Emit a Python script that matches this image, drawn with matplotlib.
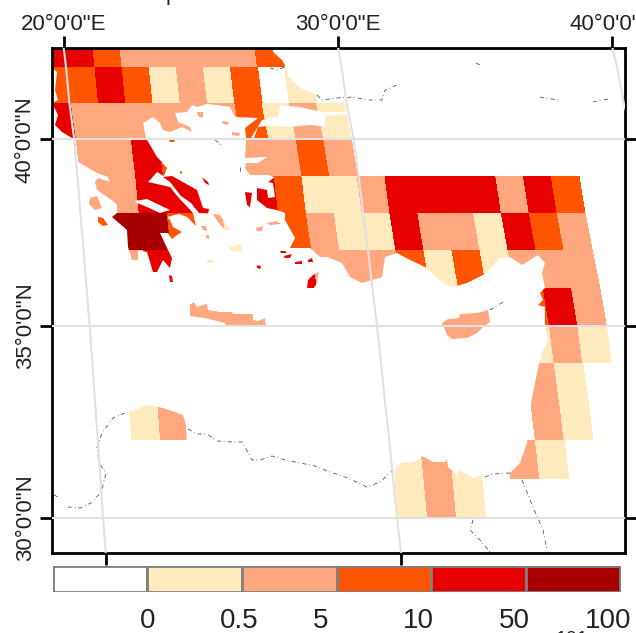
import numpy as np
import matplotlib
matplotlib.use('Agg')
import matplotlib.pyplot as plt
from matplotlib.collections import PolyCollection
from matplotlib.path import Path

plt.rcParams['font.family'] = ['Liberation Sans', 'DejaVu Sans']

# class colours and legend
classColors = ['#FFFFFF', '#FFEBBE', '#FFA77F', '#FF5500', '#E60000', '#A80000']
legendLabels = ['0', '0.5', '5', '10', '50', '100']
legendLabelPos = [1.0, 1.97, 2.83, 3.86, 4.88, 5.87]

# 1 degree grid, lon 19..38, class of each cell by the latitude of its south edge
lons = list(range(19, 39))
cells = {
    42: [4,4,3,2,2,2,2,2,3,0,0,0,0,0,0,0,0,0,0,0],
    41: [3,3,4,3,1,2,1,3,0,1,0,0,0,0,0,0,0,0,0,0],
    40: [4,2,2,2,2,2,2,3,1,2,1,0,0,0,0,0,0,0,0,0],
    39: [0,2,2,4,3,0,0,2,2,3,2,0,0,0,0,0,0,0,0,0],
    38: [0,2,2,4,4,4,4,4,3,1,1,2,4,4,4,4,2,4,3,0],
    37: [0,3,5,5,3,2,1,2,3,2,1,1,4,2,2,1,4,3,2,0],
    36: [0,0,2,4,0,1,1,4,4,2,2,2,3,1,3,1,2,2,2,0],
    35: [0,0,0,0,2,2,2,0,0,0,0,0,0,2,2,0,3,4,2,0],
    34: [0,0,0,0,0,2,0,0,0,0,0,0,0,2,2,0,1,2,1,0],
    33: [0,0,0,0,0,0,0,0,0,0,0,0,0,0,0,0,2,1,0,0],
    32: [0,0,1,2,0,0,0,0,0,0,0,0,0,0,0,0,2,1,0,0],
    31: [0,0,0,0,0,0,0,0,0,0,0,1,2,1,0,2,1,0,0,0],
    30: [0,0,0,0,0,0,0,0,0,0,0,1,2,1,0,0,0,0,0,0],
}

# map projection: y of each parallel, x scale per degree
latTable = [29, 30, 31, 32, 33, 34, 35, 36, 37, 38, 39, 40, 41, 42, 43]
yTable = [556, 517.5, 479, 440, 402, 363, 325.5, 288, 250, 213, 176, 139.3, 103, 67, 30]
cellScale = [29.2, 29.07, 28.96, 28.83, 28.7, 28.55, 28.42, 28.25, 28.05, 27.86, 27.7, 27.5, 27.25, 27.08, 26.9]
gratScale = [29.55, 29.4, 29.27, 29.14, 29.0, 28.87, 28.73, 28.58, 28.43, 28.27, 28.12, 27.96, 27.72, 27.55, 27.33]
cellOrigin = -473.7
gratOrigin = -485.0

# coastlines (map units)
mainland = [(30,30),(272,30),(273,52),(282,60),(286,67),(288,76),(300,88),(318,95),(322,97),(645,97),(645,570),
    (390,570),(395,470),(402,462),(410,463),(420,459),(422,456),(433,462),(445,462),(447,459),(448,467),(457,475),
    (459,470),(473,478),(482,475),(510,473),(520,463),(527,443),(530,408),(538,368),(543,350),(548,340),(545,327),
    (545,307),(538,305),(543,300),(540,293),(545,288),(542,273),(545,263),(538,255),(530,260),(522,265),(510,257),
    (500,258),(492,267),(483,275),(467,283),(453,287),(447,285),(437,278),(425,267),(410,260),(397,253),(385,257),
    (382,277),(372,280),(362,283),(350,277),(342,263),(327,257),(320,257),(310,248),(290,248),(295,238),(285,220),
    (285,213),(277,210),(267,208),(257,200),(257,188),(267,190),(268,198),(275,197),(273,183),(268,182),(275,177),
    (268,175),(250,175),(245,168),(246,163),(258,163),(267,157),(245,158),(246,140),(246,138),(245,128),(258,118),
    (235,117),(230,107),(217,105),(207,104),(197,107),(192,105),(187,112),(175,113),(178,122),(190,127),(192,132),
    (182,127),(175,130),(170,132),(163,130),(160,123),(153,117),(143,123),(146,138),(147,140),(157,157),(160,160),
    (167,168),(164,176),(157,172),(150,180),(148,182),(170,187),(178,197),(193,213),(196,226),(187,217),(179,214),
    (167,217),(170,220),(173,227),(182,232),(177,235),(172,239),(168,233),(160,233),(168,250),(172,258),(170,268),
    (163,260),(157,272),(153,272),(147,252),(138,250),(138,260),(132,260),(128,247),(127,230),(112,217),(117,213),
    (117,205),(113,201),(97,190),(95,182),(98,178),(110,182),(108,177),(97,173),(80,163),(73,160),(65,150),(72,145),
    (74,139),(72,138),(62,132),(55,125),(58,115),(52,103),(40,103),(52,103),(58,100),(55,90),(57,72),(52,68),(30,68)]
libya = [(126,412),(137,410),(144,405),(154,406),(163,408),(183,415),(186,425),(187,445),(120,445)]
crete = [(190,305),(194,302),(197,307),(207,304),(208,310),(220,312),(232,312),(233,314),(253,314),(253,320),(258,321),
    (268,317),(269,325),(233,325),(232,327),(226,327),(225,323),(213,320),(205,318),(190,316)]
cyprus = [(442,323),(448,319),(459,318),(460,314),(477,313),(488,310),(490,322),(482,328),(477,333),(467,338),(452,339),(447,335)]
euboea = [(163,177),(172,176),(197,190),(203,208),(209,209),(208,214),(199,213),(191,203),(181,196),(170,182)]
islands = [
    [(90,198),(97,196),(102,208),(95,210),(89,204)],
    [(98,217),(103,218),(108,225),(103,226),(98,222)],
    [(180,171),(182,172),(182,174),(180,173)],
    [(202,177),(208,182),(209,185),(205,183)],
    [(197,112),(203,112),(203,118),(198,116)],
    [(222,121),(229,122),(228,125),(223,124)],
    [(232,132),(240,133),(239,136),(232,135)],
    [(169,140),(175,140),(174,142),(170,142)],
    [(213,214),(220,215),(230,230),(225,230),(218,222)],
    [(201,226),(206,226),(207,231),(203,230)],
    [(206,235),(209,235),(209,239),(206,238)],
    [(229,247),(235,246),(241,244),(242,251),(236,252),(230,250)],
    [(207,260),(214,260),(213,263),(207,263)],
    [(255,265),(261,266),(260,269),(256,268)],
    [(256,228),(263,226),(262,231),(257,231)],
    [(267,223),(277,221),(280,224),(270,225)],
    [(245,192),(252,193),(250,207),(247,205)],
    [(280,251),(285,251),(287,253),(281,253)],
    [(284,256),(292,254),(290,258),(285,258)],
    [(295,262),(302,261),(302,264),(295,264)],
    [(308,260),(312,258),(313,262),(308,262)],
    [(313,275),(319,272),(316,285),(312,290),(307,288),(308,280)],
    [(169,275),(172,276),(173,282),(170,282)],
    [(65,147),(72,148),(75,160),(70,158)],
]
marmara = [(262,120),(278,117),(280,105),(300,107),(322,112),(345,112),(347,114),(325,116),(325,127),(310,125),
    (290,127),(267,126),(258,127),(254,138),(251,138)]
corinth = [(135,201),(147,199),(170,210),(160,213),(147,207),(137,203)]

# country borders
borders = [
    [(125,413),(113,418),(102,433),(97,447),(99,463),(106,473),(102,490),(93,502),(80,508),(68,507)],
    [(54,495),(58,497)],
    [(188,429),(197,434),(207,434),(217,441),(233,442),(242,442),(252,460),(260,460),(272,456),(285,460),(300,463),
     (315,466),(330,472),(348,478),(367,487),(380,482),(393,470)],
    [(485,477),(492,474),(510,473)],
    [(522,480),(533,507),(543,530),(547,550)],
    [(473,520),(470,530),(480,540),(490,552)],
    [(317,95),(322,100),(337,98),(353,97),(367,100),(382,100),(385,90),(397,85)],
    [(476,63),(482,66)],
    [(540,97),(558,100)],
    [(593,102),(608,99)],
    [(270,68),(277,70),(285,67)],
    [(240,167),(240,172)],
    [(215,140),(223,146)],
    [(490,310),(503,302)],
]

# graticule and tick positions
gratLons = [20, 30, 40]
gratLats = [30, 35, 40]
topTicks = [64, 338, 612]
bottomTicks = [106, 401]
topLabels = ['20°0\'0"E', '30°0\'0"E', '40°0\'0"E']
leftLabels = ['30°0\'0"N', '35°0\'0"N', '40°0\'0"N']


def cellCorners(lon, lat):
    corners = []
    for lo, la in [(lon, lat), (lon + 1, lat), (lon + 1, lat + 1), (lon, lat + 1)]:
        corners.append((cellOrigin + lo * np.interp(la, latTable, cellScale), np.interp(la, latTable, yTable)))
    return corners


def compoundPath(polygons):
    paths = [Path(np.array(p + [p[0]], dtype=float), closed=True) for p in polygons]
    return Path.make_compound_path(*paths)


fig = plt.figure(figsize=(6.36, 6.33), dpi=100)
left, right, top, bottom = 51.7, 625.0, 48.3, 553.0
ax = fig.add_axes([left / 636, (633 - bottom) / 633, (right - left) / 636, (bottom - top) / 633])
ax.set_xlim(left, right)
ax.set_ylim(bottom, top)

# the grid cells, clipped to the land
polys = []
colors = []
for lat, row in cells.items():
    for lon, cls in zip(lons, row):
        if cls > 0:
            polys.append(cellCorners(lon, lat))
            colors.append(classColors[cls])
coll = PolyCollection(polys, facecolors=colors, edgecolors='none', antialiaseds=False, zorder=1)
ax.add_collection(coll)
land = compoundPath([mainland, libya, crete, cyprus, euboea] + islands)
coll.set_clip_path(land, ax.transData)

for sea in [marmara, corinth]:
    ax.fill(*zip(*sea), color='white', lw=0, zorder=2)

for b in borders:
    ax.plot(*zip(*b), color='#555555', lw=0.6, ls=(0, (5, 3, 1, 4)), zorder=2)

# graticule
for lon in gratLons:
    xs = gratOrigin + lon * np.array(gratScale)
    ax.plot(xs, yTable, color='#E1E1E1', lw=1.5, zorder=3)
for lat in gratLats:
    ax.axhline(np.interp(lat, latTable, yTable), color='#E1E1E1', lw=1.5, zorder=3)

# frame and ticks
for side in ax.spines:
    ax.spines[side].set_linewidth(2.0)
ax.set_xticks(bottomTicks)
ax.set_xticklabels([])
ax.set_yticks([np.interp(lat, latTable, yTable) for lat in gratLats])
ax.set_yticklabels(leftLabels, rotation=90, va='center', fontsize=16, color='#222222')
ax.tick_params(axis='both', length=8.5, width=2.0, right=True, pad=3)
sec = ax.secondary_xaxis('top')
sec.set_xticks(topTicks)
sec.set_xticklabels(topLabels, fontsize=16, color='#222222')
sec.tick_params(axis='x', length=8.5, width=2.0, pad=1)
sec.spines['top'].set_visible(False)

# legend bar
legAx = fig.add_axes([52.5 / 636, (633 - 592) / 633, (620.5 - 52.5) / 636, 26 / 633])
legAx.bar(range(6), [1] * 6, width=1.0, align='edge', color=classColors, edgecolor='#808080', linewidth=2.0)
legAx.set_xlim(0, 6)
legAx.set_ylim(0, 1)
legAx.axis('off')
for lab, pos in zip(legendLabels, legendLabelPos):
    fig.text((52.5 + pos * 94.67) / 636, (633 - 628) / 633, lab, fontsize=20, color='#222222', ha='center', va='baseline')

# text cut off by the image edges
fig.text(172 / 636, 1.0, 'p', fontsize=16, color='#222222', ha='center', va='baseline')
fig.text(572 / 636, (633 - 644) / 633, '101', fontsize=14, color='#222222', ha='center', va='baseline')

fig.savefig('out.png', dpi=100)
